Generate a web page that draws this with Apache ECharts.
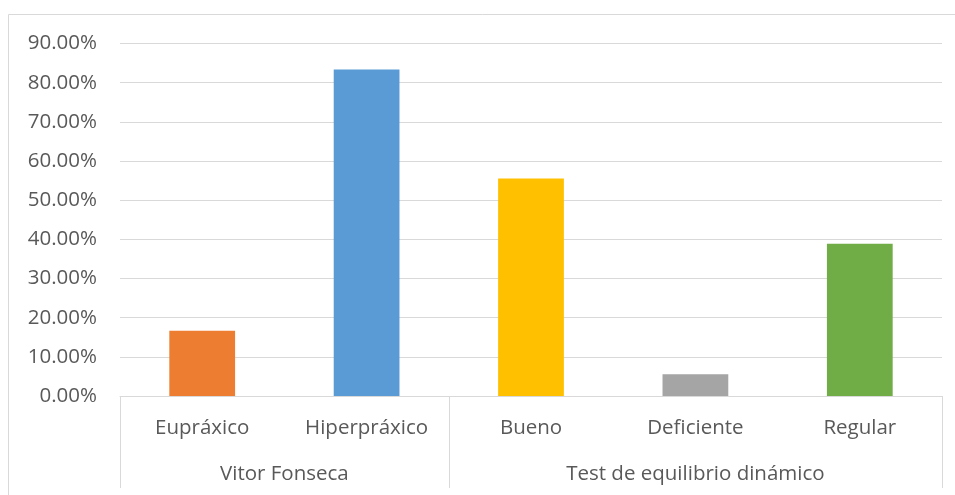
<!DOCTYPE html>
<html>
<head>
<meta charset="utf-8">
<script src="https://cdn.jsdelivr.net/npm/echarts@6/dist/echarts.min.js"></script>
<style>
  html, body { margin: 0; padding: 0; background: #fff; }
  #chart { width: 955px; height: 495px; }
</style>
</head>
<body>
<div id="chart"></div>
<script>
// Category labels (inner level) and their values as fractions
const categories = ['Eupráxico', 'Hiperpráxico', 'Bueno', 'Deficiente', 'Regular'];
const values = [0.1667, 0.8333, 0.5556, 0.0556, 0.3889];
const barColors = ['#ED7D31', '#5B9BD5', '#FFC000', '#A5A5A5', '#70AD47'];

// Outer grouping level: names and how many categories each spans
const groupNames = ['Vitor Fonseca', 'Test de equilibrio dinámico'];
const groupSizes = [2, 3];

// Y axis range
const yMin = 0, yMax = 0.9, yStep = 0.1;

const FONT = 'Open Sans';
const FS = 20.5;
const TEXT = '#595959';
const LINE = '#d9d9d9';

// Build the outer axis on a half-category grid: boundaries at even points, labels at group centres
const halfSlots = [];
const boundaryIdx = new Set([0]);
const labelIdx = new Set();
{
  const total = groupSizes.reduce((a, b) => a + b, 0) * 2;
  for (let i = 0; i <= total; i++) halfSlots.push('');
  let start = 0;
  groupSizes.forEach((n, g) => {
    const mid = start + n; // centre in half-units
    halfSlots[mid] = groupNames[g];
    labelIdx.add(mid);
    start += n * 2;
    boundaryIdx.add(start);
  });
}

const chart = echarts.init(document.getElementById('chart'), null, { renderer: 'canvas' });
chart.setOption({
  animation: false,
  backgroundColor: '#fff',
  textStyle: { fontFamily: FONT },
  grid: { left: 120, right: 13, top: 43.5, bottom: 99, containLabel: false },
  graphic: [{
    type: 'rect',
    shape: { x: 8.5, y: 14.5, width: 980, height: 520 },
    style: { fill: 'none', stroke: LINE, lineWidth: 1 },
    silent: true
  }],
  xAxis: [{
    type: 'category',
    data: categories,
    position: 'bottom',
    axisLine: { show: true, lineStyle: { color: LINE, width: 1 } },
    axisTick: { show: false },
    axisLabel: { color: TEXT, fontSize: FS, fontFamily: FONT, margin: 22, interval: 0 },
    splitLine: { show: false }
  }, {
    type: 'category',
    data: halfSlots,
    boundaryGap: false,
    position: 'bottom',
    axisLine: { show: false },
    axisTick: {
      show: true, length: 92, inside: false,
      interval: (idx) => boundaryIdx.has(idx),
      lineStyle: { color: LINE, width: 1 }
    },
    axisLabel: {
      color: TEXT, fontSize: FS, fontFamily: FONT, margin: 68,
      interval: (idx) => labelIdx.has(idx)
    },
    splitLine: { show: false }
  }],
  yAxis: {
    type: 'value',
    min: yMin, max: yMax, interval: yStep,
    axisLine: { show: false },
    axisTick: { show: false },
    axisLabel: {
      color: TEXT, fontSize: FS, fontFamily: FONT, margin: 23,
      formatter: (v) => (v * 100).toFixed(2) + '%'
    },
    splitLine: { show: true, lineStyle: { color: LINE, width: 1 } }
  },
  series: [{
    type: 'bar',
    xAxisIndex: 0,
    barWidth: '40%',
    data: values.map((v, i) => ({ value: v, itemStyle: { color: barColors[i] } }))
  }]
});
</script>
</body>
</html>
